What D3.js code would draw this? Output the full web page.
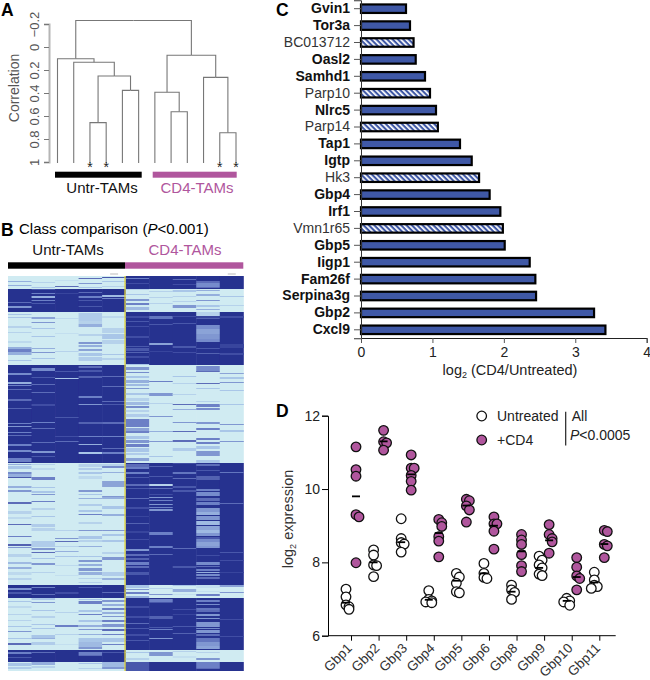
<!DOCTYPE html>
<html>
<head>
<meta charset="utf-8">
<script src="https://cdn.jsdelivr.net/npm/d3@7"></script>
<style>
  html, body { margin: 0; background: #fff; }
  svg { display: block; }
  text { font-family: "Liberation Sans", Arial, sans-serif; }
</style>
</head>
<body>
<script>
// Panel A: clustering, h is the correlation height of each join
const dendroTree = {h: -0.23, children: [
  {h: 0.102, children: [
    {leaf: 0},
    {h: 0.133, children: [
      {leaf: 1},
      {h: 0.252, children: [
        {h: 0.658, children: [{leaf: 2}, {leaf: 3}]},
        {h: 0.377, children: [{leaf: 4}, {leaf: 5}]}
      ]}
    ]}
  ]},
  {h: 0.072, children: [
    {h: 0.394, children: [
      {leaf: 6},
      {h: 0.563, children: [{leaf: 7}, {leaf: 8}]}
    ]},
    {h: 0.264, children: [
      {leaf: 9},
      {h: 0.745, children: [{leaf: 10}, {leaf: 11}]}
    ]}
  ]}
]};
const starredLeaves = [2, 3, 10, 11];
const corrTicks = [-0.2, 0, 0.2, 0.4, 0.6, 0.8, 1];

// Panel B: gene blocks, base level per group, then stripes per column [gene, span, level]
const blockEnds = [13, 36, 89, 187, 309, 322, 374, 386, 395];
const untrBase = [0, 1, 0, 1, 0, 1, 0, 1, 0];
const cd4Base = [1, 0, 1, 0, 1, 0, 1, 0, 1];
const heat0 = [[5,1,.4],[9,1,.4],[26,1,.7],[30,2,.5],[38,1,.3],[41,1,.3],[50,2,.2],[56,1,.2],[65,2,.15],[71,2,.4],[73,3,.6],[76,3,.4],[84,1,.3],[97,2,.55],[106,2,.4],[109,1,.6],[113,1,.7],[123,2,.7],[132,1,.75],[147,1,.6],[150,1,.5],[156,1,.6],[159,1,.7],[168,2,.6],[174,2,.55],[182,4,.6],[188,1,.4],[190,3,.3],[196,2,.55],[198,3,.4],[201,1,.8],[210,2,.4],[214,2,.5],[226,2,.7],[235,3,.2],[241,2,.15],[248,1,.7],[260,1,.6],[268,2,.75],[271,1,.5],[278,3,.2],[286,2,.35],[291,2,.4],[296,3,.15],[302,2,.2],[312,2,.5],[316,2,.8],[325,1,.3],[330,2,.15],[338,1,.2],[344,1,.2],[350,1,.3],[355,1,.5],[362,1,.3],[367,2,.7],[376,2,.6],[381,1,.8],[387,3,.3],[391,2,.25]];
const heat1 = [[6,1,.2],[11,1,.3],[13,1,.8],[17,1,.6],[20,2,.4],[24,1,.6],[27,1,.8],[41,2,.45],[46,1,.5],[52,1,.3],[60,1,.3],[72,1,.4],[76,1,.5],[82,1,.3],[92,3,.55],[101,1,.8],[108,1,.7],[116,1,.7],[128,2,.85],[146,1,.6],[152,1,.7],[166,1,.7],[175,2,.5],[180,1,.8],[188,1,.2],[192,2,.15],[201,3,.6],[211,1,.3],[215,2,.3],[218,1,.5],[225,1,.6],[232,2,.2],[240,1,.3],[248,3,.25],[252,3,.2],[265,6,.25],[272,2,.5],[276,1,.7],[282,1,.3],[287,2,.5],[296,1,.2],[311,1,.6],[318,1,.7],[322,2,.3],[326,1,.5],[334,1,.3],[340,2,.2],[348,1,.3],[352,1,.3],[359,3,.3],[362,1,.4],[366,3,.25],[376,1,.7],[386,3,.4],[390,2,.2]];
const heat2 = [[4,1,.1],[10,1,.7],[17,1,.9],[42,1,.15],[57,1,.1],[75,1,.2],[95,1,.8],[102,1,.3],[141,1,.8],[160,1,.85],[165,1,.7],[254,1,.2],[262,1,.5],[265,1,.7],[270,1,.2],[275,1,.4],[280,1,.3],[289,1,.15],[299,1,.1],[316,2,.85],[336,1,.2],[349,2,.6],[358,1,.2],[368,1,.1]];
const heat3 = [[2,1,.7],[7,1,.5],[11,1,.3],[16,1,.7],[20,2,.6],[24,1,.8],[30,1,.8],[37,8,.25],[45,3,.2],[48,3,.4],[58,2,.2],[66,2,.5],[69,2,.4],[73,2,.45],[77,3,.3],[81,4,.25],[90,2,.7],[94,2,.8],[100,2,.75],[120,2,.6],[128,1,.5],[146,2,.75],[160,1,.6],[168,1,.4],[176,2,.3],[188,3,.2],[192,2,.25],[196,2,.3],[200,3,.15],[214,2,.5],[218,1,.3],[222,1,.4],[228,2,.25],[234,2,.3],[238,1,.6],[246,2,.2],[254,1,.5],[260,3,.3],[264,2,.2],[270,1,.4],[280,1,.3],[284,2,.5],[288,2,.4],[292,3,.5],[296,3,.4],[302,1,.2],[306,1,.2],[311,1,.8],[323,1,.3],[325,3,.6],[334,2,.3],[338,1,.6],[344,2,.3],[349,2,.4],[353,1,.5],[358,1,.4],[362,4,.3],[366,5,.35],[371,2,.5],[376,3,.6],[379,1,.7],[387,1,.3],[392,1,.2]];
const heat4 = [[1,1,.8],[5,1,.3],[10,1,.2],[19,2,.35],[22,1,.6],[40,2,.15],[52,5,.2],[58,5,.3],[64,4,.2],[78,1,.3],[82,2,.2],[100,1,.7],[110,1,.7],[125,1,.7],[128,1,.8],[146,2,.7],[160,1,.6],[172,1,.7],[176,2,.6],[188,2,.2],[190,2,.55],[196,1,.4],[205,6,.45],[220,1,.5],[221,2,.4],[230,3,.3],[238,2,.4],[254,1,.5],[258,2,.3],[264,2,.3],[276,2,.2],[281,3,.5],[296,4,.25],[302,2,.4],[316,1,.7],[324,2,.5],[328,2,.4],[332,2,.6],[336,2,.4],[340,1,.5],[344,2,.6],[348,3,.5],[353,2,.7],[358,1,.6],[362,4,.3],[368,1,.6],[376,1,.8],[386,5,.35],[391,2,.5]];
const heat5 = [[2,1,.6],[7,1,.85],[13,1,.2],[18,1,.3],[23,2,.5],[27,2,.6],[31,3,.35],[40,2,.85],[45,1,.8],[50,1,.85],[60,2,.85],[70,1,.8],[72,3,.8],[76,1,.75],[80,2,.85],[88,1,.3],[91,3,.5],[96,1,.55],[100,2,.3],[104,3,.4],[108,2,.35],[112,1,.5],[117,2,.3],[122,3,.2],[126,3,.35],[130,2,.55],[134,2,.2],[138,3,.25],[143,8,.6],[152,3,.45],[155,2,.6],[160,3,.3],[164,3,.5],[168,3,.6],[172,4,.3],[177,2,.25],[182,3,.45],[188,3,.7],[191,2,.6],[196,2,.6],[201,1,.8],[208,2,.7],[212,1,.8],[222,1,.7],[231,2,.85],[240,1,.9],[247,1,.75],[255,2,.9],[263,1,.85],[273,2,.5],[278,2,.7],[282,2,.75],[286,3,.6],[290,2,.7],[296,3,.8],[309,3,.3],[313,1,.5],[316,2,.6],[320,2,.4],[330,2,.85],[340,2,.85],[347,1,.7],[352,1,.8],[358,2,.85],[364,1,.8],[376,1,.3],[382,2,.2],[386,9,.8]];
const heat6 = [[15,1,.2],[21,1,.2],[27,1,.2],[40,3,.65],[48,1,.8],[67,2,.45],[75,1,.9],[105,1,.6],[117,3,.5],[127,1,.2],[140,1,.5],[155,1,.4],[165,1,.5],[180,1,.3],[190,1,.75],[200,1,.8],[208,2,.2],[212,1,.7],[218,1,.85],[221,1,.5],[224,1,.6],[228,1,.5],[231,1,.6],[233,2,.5],[256,3,.6],[270,2,.6],[278,1,.7],[312,1,.2],[318,1,.5],[323,3,.6],[326,1,.8],[340,3,.75],[351,1,.8],[353,1,.6],[362,1,.5],[376,4,.5]];
const heat7 = [[3,1,.7],[8,1,.85],[14,2,.3],[20,1,.2],[25,1,.2],[29,3,.5],[40,1,.85],[47,1,.8],[70,2,.8],[76,1,.85],[100,1,.3],[107,1,.2],[118,1,.2],[128,1,.7],[133,1,.4],[146,1,.5],[155,1,.7],[164,2,.7],[172,3,.25],[187,1,.85],[196,2,.65],[202,1,.7],[210,2,.8],[214,2,.8],[272,1,.7],[290,2,.8],[309,1,.3],[313,3,.4],[318,1,.1],[333,1,.85],[338,1,.9],[350,1,.8],[357,1,.75],[375,1,.2],[380,2,.1]];
const heat8 = [[5,2,.7],[7,4,.55],[11,1,.7],[14,1,.4],[18,2,.4],[24,1,.5],[29,2,.3],[33,1,.4],[36,4,.2],[40,2,.9],[42,1,.75],[49,4,.55],[53,5,.45],[58,5,.5],[63,3,.55],[72,1,.8],[77,1,.75],[90,6,.55],[95,1,.7],[107,1,.7],[112,1,.3],[125,1,.2],[128,3,.6],[132,2,.55],[146,2,.5],[152,2,.6],[162,2,.6],[166,2,.6],[170,3,.3],[175,5,.5],[184,3,.3],[188,2,.7],[194,1,.8],[200,4,.75],[213,2,.6],[216,4,.55],[222,3,.7],[226,3,.6],[232,4,.5],[236,3,.4],[240,4,.5],[245,4,.35],[250,4,.45],[254,3,.35],[257,3,.5],[261,2,.8],[263,3,.55],[266,4,.45],[270,2,.5],[279,1,.85],[286,3,.55],[290,1,.7],[293,2,.6],[296,1,.4],[298,2,.55],[301,2,.7],[309,3,.1],[315,1,.1],[318,2,.6],[324,2,.6],[328,1,.55],[332,2,.65],[334,2,.7],[338,2,.5],[342,1,.5],[346,5,.5],[352,1,.55],[354,3,.5],[358,2,.7],[362,4,.65],[366,4,.5],[370,3,.45],[376,1,.2],[382,2,.5],[386,6,.6],[392,1,.7]];
const heat9 = [[20,1,.3],[29,1,.2],[40,2,.85],[68,4,.9],[77,2,.85],[97,1,.45],[101,2,.3],[106,1,.5],[114,1,.3],[128,1,.3],[148,1,.5],[154,2,.3],[165,1,.5],[196,1,.65],[227,1,.7],[276,1,.8],[284,1,.85],[296,1,.9],[309,2,.45],[316,1,.5],[343,1,.85],[360,1,.85]];
const heatCols = [heat0, heat1, heat2, heat3, heat4, heat5, heat6, heat7, heat8, heat9];

// Panel C
const genes = ['Gvin1', 'Tor3a', 'BC013712', 'Oasl2', 'Samhd1', 'Parp10', 'Nlrc5', 'Parp14', 'Tap1', 'Igtp', 'Hk3', 'Gbp4', 'Irf1', 'Vmn1r65', 'Gbp5', 'Iigp1', 'Fam26f', 'Serpina3g', 'Gbp2', 'Cxcl9'];
const foldChange = [.644, .70, .75, .78, .91, .98, 1.064, 1.09, 1.40, 1.564, 1.667, 1.815, 1.965, 2.00, 2.026, 2.376, 2.455, 2.465, 3.277, 3.436];
const hatchedGenes = ['BC013712', 'Parp10', 'Parp14', 'Hk3', 'Vmn1r65'];

// Panel D
const gbpNames = ['Gbp1', 'Gbp2', 'Gbp3', 'Gbp4', 'Gbp5', 'Gbp6', 'Gbp8', 'Gbp9', 'Gbp10', 'Gbp11'];
const untreated = [
  [7.27, 7.06, 6.84, 6.79, 6.72], [8.34, 8.2, 7.93, 7.91, 7.61], [9.19, 8.65, 8.54, 8.5, 8.28],
  [7.23, 6.99, 6.95, 6.92, 6.9], [7.7, 7.6, 7.43, 7.2, 7.17], [7.97, 7.7, 7.59, 7.56],
  [7.38, 7.25, 7.18, 6.99], [8.17, 8.06, 7.93, 7.85, 7.68, 7.64], [7.02, 6.95, 6.92, 6.83],
  [7.73, 7.52, 7.38, 7.34, 7.29]
];
const plusCd4 = [
  [11.15, 10.53, 10.35, 9.3, 9.24, 7.99], [11.6, 11.29, 11.26, 11.06], [10.93, 10.57, 10.57, 10.37, 10.21, 9.97],
  [9.17, 9.08, 8.98, 8.7, 8.58, 8.15], [9.72, 9.68, 9.54, 9.43, 9.1], [9.24, 9.05, 9.05, 8.85, 8.36],
  [8.76, 8.61, 8.49, 8.21, 7.91, 7.75], [9.03, 8.76, 8.65, 8.56, 8.25], [8.13, 7.87, 7.63, 7.56, 7.25],
  [8.87, 8.84, 8.49, 8.45, 8.13]
];
const untreatedMeans = [6.9, 8.0, 8.55, 6.98, 7.5, 7.7, 7.2, 7.85, 6.95, 7.45];
const cd4Means = [9.8, 11.3, 10.4, 8.8, 9.55, 9.0, 8.3, 8.6, 7.6, 8.5];

const black = '#000';
const pink = '#b0569d';
const grayText = '#555';

const svg = d3.select('body').append('svg')
    .attr('width', 650)
    .attr('height', 680);

svg.append('rect').attr('width', 650).attr('height', 680).attr('fill', '#fff');

const defs = svg.append('defs');

function panelLabel (name, x, y) {
  svg.append('text').attr('x', x).attr('y', y)
      .attr('font-size', 17.5).attr('font-weight', 'bold').text(name);
}

function groupLabel (label, x, y, fill) {
  svg.append('text').attr('x', x).attr('y', y)
      .attr('text-anchor', 'middle').attr('font-size', 15).attr('fill', fill).text(label);
}

function drawDendrogram () {
  const corr = d3.scaleLinear().domain([-0.2, 1]).range([24, 162]);
  const leafX = d3.scaleLinear().domain([0, 11]).range([57.5, 236]);
  const root = d3.hierarchy(dendroTree);

  root.eachAfter(n => {
    n.px = n.children ? d3.mean(n.children, c => c.px) : leafX(n.data.leaf);
    n.py = n.children ? corr(n.data.h) : corr(1) + 1;
  });

  const axis = d3.axisLeft(corr).tickValues(corrTicks).tickSize(5).tickFormat(d3.format('.2~f'));
  const g = svg.append('g').attr('transform', 'translate(49,0)').call(axis);
  g.attr('font-family', null);
  g.select('.domain').attr('stroke', '#b5b5b5').attr('stroke-width', 2);
  g.selectAll('.tick line').attr('stroke', '#777');
  g.selectAll('.tick text')
      .attr('transform', 'rotate(-90)')
      .attr('x', 0).attr('y', -10).attr('dy', 0)
      .attr('text-anchor', 'middle')
      .attr('font-size', 13).attr('fill', grayText);

  svg.append('text')
      .attr('transform', 'translate(19,88) rotate(-90)')
      .attr('text-anchor', 'middle').attr('font-size', 14).attr('fill', grayText)
      .text('Correlation');

  svg.append('g').selectAll('path').data(root.links()).join('path')
      .attr('d', d => `M${d.target.px},${d.target.py}V${d.source.py}H${d.source.px}`)
      .attr('fill', 'none').attr('stroke', '#777').attr('stroke-width', 1.1);

  svg.append('g').selectAll('text').data(starredLeaves).join('text')
      .attr('x', leafX).attr('y', 171.5)
      .attr('text-anchor', 'middle').attr('font-size', 14).attr('fill', '#222').text('*');

  svg.append('rect').attr('x', 55).attr('y', 171.7).attr('width', 86.7).attr('height', 6).attr('fill', black);
  svg.append('rect').attr('x', 152.7).attr('y', 171.7).attr('width', 84).attr('height', 6).attr('fill', pink);
  groupLabel('Untr-TAMs', 102, 193, '#111');
  groupLabel('CD4-TAMs', 197, 193, pink);
}

function drawHeatmap () {
  const col = d3.scaleBand().domain(d3.range(10)).range([8, 243.3]);
  const row = d3.scaleLinear().domain([0, 395]).range([276, 671]);
  const level = d3.scaleLinear()
      .domain([0, 0.3, 0.6, 1])
      .range(['#d0ebf2', '#a9c6e8', '#6c80c6', '#26308f']);

  // the printed heat map is soft, hard pixel edges look wrong next to it
  defs.append('filter').attr('id', 'soft')
      .attr('x', 0).attr('y', 0).attr('width', 1).attr('height', 1)
    .append('feGaussianBlur').attr('stdDeviation', '0.3 0.55');

  const txt = svg.append('text').attr('x', 19).attr('y', 234).attr('font-size', 15);
  txt.append('tspan').text('Class comparison (');
  txt.append('tspan').attr('font-style', 'italic').text('P');
  txt.append('tspan').text('<0.001)');

  groupLabel('Untr-TAMs', 68, 255, '#111');
  groupLabel('CD4-TAMs', 185, 255, pink);
  svg.append('rect').attr('x', 8).attr('y', 262.3).attr('width', 117).attr('height', 6.4).attr('fill', black);
  svg.append('rect').attr('x', 125).attr('y', 262.3).attr('width', 118.3).attr('height', 6.4).attr('fill', pink);

  const blocks = blockEnds.map((end, i) => ({start: i ? blockEnds[i - 1] : 0, end, i}));
  const columns = svg.append('g').attr('filter', 'url(#soft)')
      .selectAll('g').data(heatCols).join('g')
      .attr('transform', (d, i) => `translate(${col(i)},0)`);

  columns.selectAll('.base').data((d, i) => blocks.map(b => ({...b, value: (i < 5 ? untrBase : cd4Base)[b.i]}))).join('rect')
      .attr('class', 'base')
      .attr('y', d => row(d.start))
      .attr('width', col.bandwidth() + 0.5)
      .attr('height', d => row(d.end) - row(d.start))
      .attr('fill', d => level(d.value));

  columns.selectAll('.stripe').data(d => d).join('rect')
      .attr('class', 'stripe')
      .attr('y', d => row(d[0]))
      .attr('width', col.bandwidth() + 0.5)
      .attr('height', d => row(d[0] + d[1]) - row(d[0]))
      .attr('fill', d => level(d[2]));

  svg.append('line').attr('x1', 125).attr('x2', 125).attr('y1', 276).attr('y2', 671)
      .attr('stroke', '#e6d62e').attr('stroke-width', 1.2);

  svg.append('g').selectAll('line').data([4, 9]).join('line')
      .attr('x1', d => col(d) + 8).attr('x2', d => col(d) + 16)
      .attr('y1', 274).attr('y2', 274)
      .attr('stroke', '#bbb').attr('stroke-width', 1);
}

function drawBars () {
  const x = d3.scaleLinear().domain([0, 4]).range([361, 646.7]);
  const y = d3.scaleBand().domain(genes).range([0.25, 338.25]).paddingInner(0.497).paddingOuter(0.2485);

  const hatch = defs.append('pattern')
      .attr('id', 'hatch').attr('patternUnits', 'userSpaceOnUse')
      .attr('width', 3.8).attr('height', 3.8)
      .attr('patternTransform', 'rotate(-45)');
  hatch.append('rect').attr('width', 3.8).attr('height', 3.8).attr('fill', '#3f58a6');
  hatch.append('rect').attr('width', 1.7).attr('height', 3.8).attr('fill', '#fff');

  svg.append('g').selectAll('rect').data(genes).join('rect')
      .attr('x', x(0))
      .attr('y', d => y(d))
      .attr('width', (d, i) => x(foldChange[i]) - x(0) - 1)
      .attr('height', y.bandwidth())
      .attr('fill', d => hatchedGenes.includes(d) ? 'url(#hatch)' : '#3f58a6')
      .attr('stroke', '#000').attr('stroke-width', 2.2);

  const yAxis = d3.axisLeft(y).tickSize(7).tickPadding(4);
  const gy = svg.append('g').attr('transform', `translate(${x(0)},0)`).call(yAxis);
  gy.attr('font-family', null);
  gy.select('.domain').attr('stroke', '#333').attr('stroke-width', 1);
  gy.selectAll('.tick line').attr('stroke', '#555');
  gy.selectAll('.tick text')
      .attr('font-size', 14)
      .attr('font-weight', d => hatchedGenes.includes(d) ? null : 'bold')
      .attr('fill', d => hatchedGenes.includes(d) ? '#333' : '#111');

  const xAxis = d3.axisBottom(x).ticks(4).tickSize(5).tickPadding(4).tickFormat(d3.format('d'));
  const gx = svg.append('g').attr('transform', 'translate(0,338)').call(xAxis);
  gx.attr('font-family', null);
  gx.select('.domain').attr('stroke', '#222').attr('stroke-width', 1);
  gx.selectAll('.tick line').attr('stroke', '#555');
  gx.selectAll('.tick text').attr('font-size', 14).attr('fill', '#222');

  const title = svg.append('text').attr('x', 510).attr('y', 375)
      .attr('text-anchor', 'middle').attr('font-size', 14.5).attr('fill', '#222');
  title.append('tspan').text('log');
  title.append('tspan').attr('font-size', 9).attr('dy', 3).text('2');
  title.append('tspan').attr('dy', -3).text(' (CD4/Untreated)');
}

// keep near-equal values from landing exactly on top of each other
function spread (values, center) {
  const placed = [];
  return values.map(v => {
    const near = placed.filter(p => Math.abs(p - v) < 0.11).length;
    placed.push(v);
    const off = near === 0 ? 0 : (near % 2 ? 3 : -3);
    return {value: v, x: center + off};
  });
}

function drawScatter () {
  const x = d3.scalePoint().domain(gbpNames).range([351, 599.3]);
  const y = d3.scaleLinear().domain([6, 12]).range([635.7, 415.7]);

  const yAxis = d3.axisLeft(y).tickValues([6, 8, 10, 12]).tickSize(6).tickPadding(2).tickFormat(d3.format('d'));
  const gy = svg.append('g').attr('transform', 'translate(328,0)').call(yAxis);
  gy.attr('font-family', null);
  gy.selectAll('.tick text').attr('font-size', 14).attr('fill', '#222');

  const xAxis = d3.axisBottom(x).tickSize(5).tickPadding(3);
  const gx = svg.append('g').attr('transform', 'translate(0,635.7)').call(xAxis);
  gx.attr('font-family', null);
  gx.select('.domain').attr('d', 'M328,0H615.7');
  gx.selectAll('.tick text')
      .attr('font-size', 13.5).attr('fill', '#333')
      .attr('text-anchor', 'end')
      .attr('transform', 'translate(-2,10) rotate(-45)')
      .attr('x', 0).attr('y', 0).attr('dy', '.35em');

  const ylabel = svg.append('text')
      .attr('transform', 'translate(293,519) rotate(-90)')
      .attr('text-anchor', 'middle').attr('font-size', 14.5).attr('fill', '#333');
  ylabel.append('tspan').text('log');
  ylabel.append('tspan').attr('font-size', 9).attr('dy', 3).text('2');
  ylabel.append('tspan').attr('dy', -3).text(' expression');

  const series = [
    {values: untreated, means: untreatedMeans, dx: -5, fill: '#fff'},
    {values: plusCd4, means: cd4Means, dx: 5, fill: pink}
  ];

  series.forEach(s => {
    const pts = s.values.flatMap((vals, i) => spread(vals, x(gbpNames[i]) + s.dx));
    svg.append('g').selectAll('circle').data(pts).join('circle')
        .attr('cx', d => d.x).attr('cy', d => y(d.value)).attr('r', 4.8)
        .attr('fill', s.fill).attr('stroke', '#111').attr('stroke-width', 1.3);
    svg.append('g').selectAll('line').data(s.means).join('line')
        .attr('x1', (d, i) => x(gbpNames[i]) + s.dx - 4)
        .attr('x2', (d, i) => x(gbpNames[i]) + s.dx + 4)
        .attr('y1', d => y(d)).attr('y2', d => y(d))
        .attr('stroke', '#000').attr('stroke-width', 1.8);
  });

  // legend
  const legend = [['Untreated', '#fff', 416], ['+CD4', pink, 440]];
  legend.forEach(([label, fill, cy]) => {
    svg.append('circle').attr('cx', 481.7).attr('cy', cy).attr('r', 4.8)
        .attr('fill', fill).attr('stroke', '#111').attr('stroke-width', 1.3);
    svg.append('text').attr('x', 497).attr('y', cy + 5)
        .attr('font-size', 14).attr('fill', '#222').text(label);
  });
  svg.append('line').attr('x1', 565.7).attr('x2', 565.7).attr('y1', 411.7).attr('y2', 445.5)
      .attr('stroke', '#222').attr('stroke-width', 1.2);
  svg.append('text').attr('x', 571.7).attr('y', 421).attr('font-size', 14).attr('fill', '#222').text('All');
  const pval = svg.append('text').attr('x', 570).attr('y', 440).attr('font-size', 14).attr('fill', '#222');
  pval.append('tspan').attr('font-style', 'italic').text('P');
  pval.append('tspan').text('<0.0005');
}

drawDendrogram();
drawHeatmap();
drawBars();
drawScatter();

panelLabel('A', 1, 16);
panelLabel('B', 1, 236);
panelLabel('C', 276, 16);
panelLabel('D', 276, 417);
</script>
</body>
</html>
